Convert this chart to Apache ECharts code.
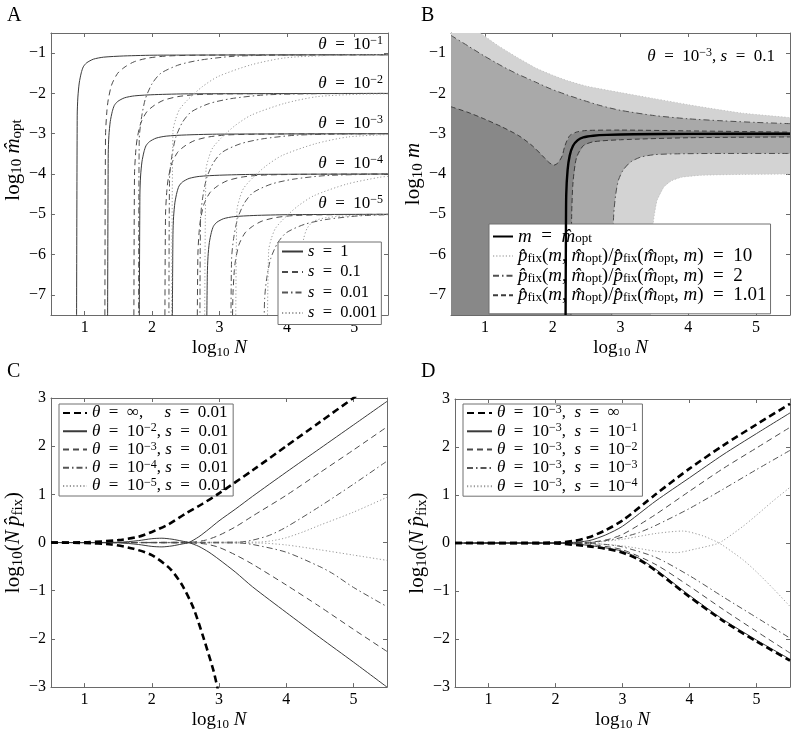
<!DOCTYPE html>
<html><head><meta charset="utf-8">
<script src="https://cdn.jsdelivr.net/npm/echarts@6/dist/echarts.min.js"></script>
<style>html,body{margin:0;padding:0;background:#fff}#c{width:800px;height:732px}</style>
</head><body><div id="c"></div>
<script>
// ---------------- DATA ----------------
const X_TICKS = [1, 2, 3, 4, 5];
const YA_TICKS = [-7, -6, -5, -4, -3, -2, -1];
const YC_TICKS = [-3, -2, -1, 0, 1, 2, 3];
const THETA_LABELS_A = ['−1', '−2', '−3', '−4', '−5'];

// Panel A: log10 m_opt vs log10 N  (rows: theta = 1e-1 .. 1e-5)
const A_S1 = [
 [[0.88,-8],[0.89,-2.54],[0.90,-2.09],[0.92,-1.74],[0.95,-1.49],[0.98,-1.34],[1.03,-1.24],[1.13,-1.15],[1.28,-1.10],[1.58,-1.07],[2.08,-1.05],[5.5,-1.04]],
 [[1.34,-8],[1.35,-3.5],[1.36,-3.05],[1.38,-2.7],[1.41,-2.45],[1.44,-2.3],[1.49,-2.2],[1.59,-2.11],[1.74,-2.06],[2.04,-2.03],[2.54,-2.01],[5.5,-2.0]],
 [[1.81,-8],[1.82,-4.5],[1.83,-4.05],[1.85,-3.7],[1.88,-3.45],[1.91,-3.3],[1.96,-3.2],[2.06,-3.11],[2.21,-3.06],[2.51,-3.03],[3.01,-3.01],[5.5,-3.0]],
 [[2.30,-8],[2.31,-5.5],[2.32,-5.05],[2.34,-4.7],[2.37,-4.45],[2.40,-4.3],[2.45,-4.2],[2.55,-4.11],[2.70,-4.06],[3.00,-4.03],[3.50,-4.01],[5.5,-4.0]],
 [[2.81,-8],[2.82,-6.5],[2.83,-6.05],[2.85,-5.7],[2.88,-5.45],[2.91,-5.3],[2.96,-5.2],[3.06,-5.11],[3.21,-5.06],[3.51,-5.03],[4.01,-5.01],[5.5,-5.0]]
];
const A_S01 = [
 [[1.30,-8],[1.31,-3.04],[1.33,-2.44],[1.35,-2.16],[1.40,-1.79],[1.49,-1.50],[1.60,-1.34],[1.74,-1.21],[1.95,-1.12],[2.23,-1.07],[2.80,-1.05],[5.5,-1.04]],
 [[1.73,-8],[1.74,-4.0],[1.76,-3.4],[1.78,-3.12],[1.83,-2.75],[1.92,-2.46],[2.03,-2.3],[2.17,-2.17],[2.38,-2.08],[2.66,-2.03],[3.23,-2.01],[5.5,-2.0]],
 [[2.19,-8],[2.20,-5.0],[2.22,-4.4],[2.24,-4.12],[2.29,-3.75],[2.38,-3.46],[2.49,-3.3],[2.63,-3.17],[2.84,-3.08],[3.12,-3.03],[3.69,-3.01],[5.5,-3.0]],
 [[2.67,-8],[2.68,-6.0],[2.70,-5.4],[2.72,-5.12],[2.77,-4.75],[2.86,-4.46],[2.97,-4.3],[3.11,-4.17],[3.32,-4.08],[3.60,-4.03],[4.17,-4.01],[5.5,-4.0]],
 [[3.19,-8],[3.20,-7.0],[3.22,-6.4],[3.24,-6.12],[3.29,-5.75],[3.38,-5.46],[3.49,-5.3],[3.63,-5.17],[3.84,-5.08],[4.12,-5.03],[4.69,-5.01],[5.5,-5.0]]
];
const A_S001 = [
 [[1.80,-8],[1.81,-3.14],[1.84,-2.64],[1.90,-2.14],[2.00,-1.76],[2.13,-1.50],[2.40,-1.29],[2.72,-1.17],[3.20,-1.08],[3.80,-1.05],[5.5,-1.04]],
 [[2.25,-8],[2.26,-4.1],[2.29,-3.6],[2.35,-3.1],[2.45,-2.72],[2.58,-2.46],[2.85,-2.25],[3.17,-2.13],[3.65,-2.04],[4.25,-2.01],[5.5,-2.0]],
 [[2.71,-8],[2.72,-5.1],[2.75,-4.6],[2.81,-4.1],[2.91,-3.72],[3.04,-3.46],[3.31,-3.25],[3.63,-3.13],[4.11,-3.04],[4.71,-3.01],[5.5,-3.0]],
 [[3.17,-8],[3.18,-6.1],[3.21,-5.6],[3.27,-5.1],[3.37,-4.72],[3.50,-4.46],[3.77,-4.25],[4.09,-4.13],[4.57,-4.04],[5.17,-4.01],[5.5,-4.0]],
 [[3.66,-8],[3.67,-7.1],[3.70,-6.6],[3.76,-6.1],[3.86,-5.72],[3.99,-5.46],[4.26,-5.25],[4.58,-5.13],[5.06,-5.04],[5.5,-5.01]]
];
const A_S0001 = [
 [[2.29,-8],[2.31,-2.94],[2.35,-2.64],[2.41,-2.39],[2.54,-2.14],[2.74,-1.84],[2.98,-1.58],[3.47,-1.29],[3.96,-1.12],[4.59,-1.06],[5.5,-1.04]],
 [[2.78,-8],[2.80,-3.9],[2.84,-3.6],[2.90,-3.35],[3.03,-3.1],[3.23,-2.8],[3.47,-2.54],[3.96,-2.25],[4.45,-2.08],[5.08,-2.02],[5.5,-2.01]],
 [[3.24,-8],[3.26,-4.9],[3.30,-4.6],[3.36,-4.35],[3.49,-4.1],[3.69,-3.8],[3.93,-3.54],[4.42,-3.25],[4.91,-3.08],[5.5,-3.02]],
 [[3.71,-8],[3.73,-5.9],[3.77,-5.6],[3.83,-5.35],[3.96,-5.1],[4.16,-4.8],[4.40,-4.54],[4.89,-4.25],[5.38,-4.08],[5.5,-4.06]],
 [[4.20,-8],[4.21,-6.5],[4.22,-6.0],[4.25,-5.6],[4.30,-5.35],[4.40,-5.17],[4.60,-5.08],[5.00,-5.03],[5.5,-5.01]]
];

// Panel B: regions and contours (theta = 1e-3, s = 0.1)
const B_U10 = [[0.93,-0.5],[1.2,-0.82],[1.47,-1.1],[1.75,-1.37],[2.0,-1.55],[2.21,-1.68],[2.5,-1.82],[3.0,-1.98],[3.5,-2.13],[4.0,-2.28],[4.32,-2.37],[4.8,-2.49],[5.5,-2.6]];
const B_L10 = [[3.44,-7.5],[3.45,-6.0],[3.47,-5.4],[3.5,-5.0],[3.54,-4.65],[3.64,-4.32],[3.75,-4.17],[3.9,-4.08],[4.2,-4.03],[4.8,-4.01],[5.5,-4.0]];
const B_U2 = [[0.5,-0.56],[0.75,-0.82],[0.98,-1.06],[1.25,-1.32],[1.47,-1.51],[1.75,-1.72],[1.96,-1.88],[2.2,-2.03],[2.45,-2.17],[2.7,-2.3],[3.0,-2.42],[3.5,-2.55],[4.0,-2.63],[4.5,-2.68],[5.0,-2.72],[5.5,-2.75]];
const B_L2 = [[2.87,-7.5],[2.88,-6.0],[2.9,-5.0],[2.93,-4.5],[2.97,-4.15],[3.04,-3.9],[3.15,-3.7],[3.3,-3.58],[3.5,-3.52],[3.8,-3.5],[4.5,-3.49],[5.5,-3.49]];
const B_U101 = [[0.5,-2.33],[0.75,-2.47],[1.0,-2.64],[1.25,-2.83],[1.5,-3.05],[1.7,-3.3],[1.85,-3.55],[1.95,-3.72],[2.02,-3.78],[2.08,-3.72],[2.14,-3.55],[2.18,-3.3],[2.25,-3.05],[2.35,-2.96],[2.5,-2.92],[3.0,-2.91],[4.0,-2.93],[5.5,-2.96]];
const B_L101 = [[2.27,-7.5],[2.28,-5.0],[2.3,-4.2],[2.35,-3.6],[2.45,-3.3],[2.6,-3.2],[3.0,-3.15],[4.0,-3.1],[5.5,-3.08]];
const B_MOPT = [[2.19,-7.5],[2.195,-5.5],[2.2,-4.5],[2.22,-3.9],[2.25,-3.55],[2.3,-3.3],[2.37,-3.16],[2.45,-3.09],[2.6,-3.05],[2.8,-3.03],[3.2,-3.015],[4.0,-3.005],[5.5,-3.0]];
const B_CORNERS = {tl:[0.5,-0.5], bl:[0.5,-7.5], r10:[5.5,-4.0], r2:[5.5,-3.49]};

// Panel C: log10(N p_fix), s = 0.01
const C_INF_UP = [[0.5,0],[1,0.005],[1.5,0.05],[1.8,0.12],[2.0,0.22],[2.25,0.38],[2.5,0.6],[2.75,0.8],[3.0,1.02],[3.5,1.5],[4,2.0],[4.5,2.5],[5.0,3.0],[5.1,3.1]];
const C_INF_LO = [[0.5,0],[1.0,-0.01],[1.4,-0.04],[1.73,-0.13],[2.0,-0.26],[2.27,-0.54],[2.45,-0.88],[2.62,-1.36],[2.77,-1.98],[2.92,-2.67],[2.99,-3.1]];
const C_T2_A = [[0.5,0],[1.5,0.005],[1.8,0.04],[2.0,0.08],[2.15,0.09],[2.3,0.07],[2.45,0.03],[2.55,0],[2.7,-0.08],[2.85,-0.2],[3.0,-0.35],[3.25,-0.62],[3.5,-0.92],[4.0,-1.45],[4.5,-1.97],[5.0,-2.48],[5.5,-3.0]];
const C_T2_B = [[0.5,0],[1.5,-0.005],[1.8,-0.04],[2.0,-0.08],[2.15,-0.09],[2.3,-0.07],[2.45,-0.03],[2.55,0],[2.7,0.12],[2.85,0.28],[3.0,0.45],[3.25,0.7],[3.5,0.96],[4.0,1.46],[4.5,1.95],[5.0,2.44],[5.5,2.93]];
const C_T3_UP = [[0.5,0],[2.6,0.01],[2.8,0.05],[3.0,0.15],[3.25,0.33],[3.5,0.55],[4.0,0.98],[4.5,1.45],[5.0,1.92],[5.5,2.4]];
const C_T3_LO = [[0.5,0],[2.6,-0.01],[2.8,-0.03],[3.0,-0.1],[3.25,-0.26],[3.5,-0.45],[4.0,-0.88],[4.5,-1.33],[5.0,-1.8],[5.5,-2.26]];
const C_T4_UP = [[0.5,0],[3.3,0.01],[3.5,0.05],[3.75,0.15],[4.0,0.32],[4.5,0.75],[5.0,1.21],[5.5,1.69]];
const C_T4_LO = [[0.5,0],[3.3,-0.01],[3.5,-0.04],[4.0,-0.2],[4.5,-0.5],[4.7,-0.65],[5.0,-0.93],[5.5,-1.33]];
const C_T5_UP = [[0.5,0],[3.6,0.01],[3.8,0.04],[4.0,0.1],[4.25,0.22],[4.5,0.36],[5.0,0.63],[5.5,0.94]];
const C_T5_LO = [[0.5,0],[3.6,-0.01],[4.0,-0.05],[4.5,-0.15],[5.0,-0.26],[5.5,-0.37]];

// Panel D: log10(N p_fix), theta = 1e-3
const D_INF_UP = [[0.5,0],[2.0,0.01],[2.3,0.05],[2.5,0.12],[2.75,0.27],[3.0,0.47],[3.5,1.02],[4.0,1.55],[4.5,2.03],[5.0,2.47],[5.5,2.9]];
const D_INF_LO = [[0.5,0],[2.0,-0.01],[2.5,-0.07],[2.75,-0.12],[3.0,-0.2],[3.25,-0.35],[3.5,-0.58],[3.75,-0.85],[4.0,-1.12],[4.5,-1.62],[5.0,-2.05],[5.5,-2.45]];
const D_S1_UP = [[0.5,0],[2.2,0.01],[2.5,0.05],[2.75,0.17],[3.0,0.35],[3.5,0.88],[4.0,1.36],[4.5,1.84],[5.0,2.28],[5.5,2.71]];
const D_S1_LO = [[0.5,0],[2.2,-0.01],[2.5,-0.05],[2.75,-0.1],[3.0,-0.17],[3.25,-0.32],[3.5,-0.55],[3.75,-0.82],[4.0,-1.09],[4.5,-1.59],[5.0,-2.02],[5.5,-2.42]];
const D_S2_UP = [[0.5,0],[2.4,0.01],[2.6,0.03],[2.8,0.08],[3.0,0.18],[3.25,0.38],[3.5,0.6],[4.0,1.08],[4.5,1.55],[5.0,1.98],[5.5,2.41]];
const D_S2_LO = [[0.5,0],[2.4,-0.01],[2.6,-0.04],[3.0,-0.14],[3.5,-0.45],[4.0,-0.9],[4.5,-1.38],[5.0,-1.84],[5.5,-2.29]];
const D_S3_UP = [[0.5,0],[2.5,0.01],[2.75,0.05],[3.0,0.12],[3.25,0.22],[3.5,0.37],[4.0,0.72],[4.5,1.12],[5.0,1.53],[5.5,1.93]];
const D_S3_LO = [[0.5,0],[2.5,-0.01],[2.75,-0.03],[3.0,-0.08],[3.5,-0.3],[4.0,-0.68],[4.5,-1.12],[5.0,-1.55],[5.5,-1.98]];
const D_S4_A = [[0.5,0],[2.5,0.01],[3.0,0.08],[3.5,0.2],[3.9,0.25],[4.2,0.15],[4.4,0.03],[4.5,-0.05],[4.8,-0.35],[5.0,-0.6],[5.25,-0.95],[5.5,-1.32]];
const D_S4_B = [[0.5,0],[2.5,-0.01],[3.0,-0.06],[3.5,-0.17],[3.8,-0.2],[4.1,-0.12],[4.4,-0.02],[4.5,0.05],[4.8,0.35],[5.0,0.58],[5.25,0.88],[5.5,1.16]];

// ---------------- STYLE ----------------
const FONT = '"Liberation Serif","DejaVu Serif",serif';
const EQ = '\u2002=\u2002';
function rich(fs, lh) {
  const sf = Math.round(fs * 0.7);
  return {
    i: {fontFamily: FONT, fontStyle: 'italic', fontSize: fs, lineHeight: lh, color: '#000'},
    sub: {fontFamily: FONT, fontSize: sf, verticalAlign: 'bottom', color: '#000'},
    sup: {fontFamily: FONT, fontSize: sf, verticalAlign: 'top', color: '#000'}
  };
}
const SOLID = {type: 'solid', width: 1, color: '#3a3a3a'};
const DASH = {type: [6, 4], width: 1, color: '#4a4a4a'};
const DASHDOT = {type: [6, 3, 1.5, 3], width: 1, color: '#555'};
const DOT = {type: [1.2, 2.2], width: 1, color: '#9a9a9a'};
const THICK = {type: [7, 4], width: 2.6, color: '#000'};

const grids = [
  {left: 50, top: 33, width: 338, height: 282},
  {left: 451, top: 33, width: 339, height: 282},
  {left: 51, top: 398, width: 336, height: 291},
  {left: 455, top: 399, width: 335, height: 290}
];
const Y_NAME_GAP = [20, 18, 21, 22];
const Y_NAME_PAD = [[0, 0, 0, 28], [0, 0, 0, 0], [0, 0, 0, 0], [0, 0, 0, 0]];

function fmtNum(v) { return String(v).replace('-', '−'); }
const xAxes = [], yAxes = [];
grids.forEach((g, gi) => {
  const yTicks = gi < 2 ? YA_TICKS : YC_TICKS;
  const yMin = gi < 2 ? -7.5 : -3, yMax = gi < 2 ? -0.5 : 3;
  const common = {axisLine: {onZero: false, lineStyle: {color: '#6a6a6a', width: 1}}, splitLine: {show: false}};
  xAxes.push(Object.assign({}, common, {
    type: 'value', gridIndex: gi, min: 0.5, max: 5.5, position: 'bottom',
    axisTick: {inside: true, length: 4, customValues: X_TICKS, lineStyle: {color: '#6a6a6a'}},
    axisLabel: {customValues: X_TICKS, margin: 5, fontFamily: FONT, fontSize: 16, color: '#000', formatter: fmtNum},
    name: 'log{sub|10} {i|N}', nameLocation: 'middle', nameGap: 13,
    nameTextStyle: {fontFamily: FONT, fontSize: 19, color: '#000', lineHeight: 22, rich: rich(19, 22)}
  }));
  xAxes.push(Object.assign({}, common, {
    type: 'value', gridIndex: gi, min: 0.5, max: 5.5, position: 'top',
    axisTick: {inside: true, length: 4, customValues: X_TICKS, lineStyle: {color: '#6a6a6a'}},
    axisLabel: {show: false}
  }));
  const yName = gi === 0 ? 'log{sub|10} {i|m\u0302}{sub|opt}' : gi === 1 ? 'log{sub|10} {i|m}' : 'log{sub|10}({i|N\u2009p\u0302}{sub|fix})';
  yAxes.push(Object.assign({}, common, {
    type: 'value', gridIndex: gi, min: yMin, max: yMax, position: 'left',
    axisTick: {inside: true, length: 4, customValues: yTicks, lineStyle: {color: '#6a6a6a'}},
    axisLabel: {customValues: yTicks, margin: 5, fontFamily: FONT, fontSize: 16, color: '#000', formatter: fmtNum},
    name: yName, nameLocation: 'middle', nameRotate: 90, nameGap: Y_NAME_GAP[gi],
    nameTextStyle: {fontFamily: FONT, fontSize: 21, color: '#000', lineHeight: 24, padding: Y_NAME_PAD[gi], rich: rich(21, 24)}
  }));
  yAxes.push(Object.assign({}, common, {
    type: 'value', gridIndex: gi, min: yMin, max: yMax, position: 'right',
    axisTick: {inside: true, length: 4, customValues: yTicks, lineStyle: {color: '#6a6a6a'}},
    axisLabel: {show: false}
  }));
});

const series = [];
function addLine(gi, name, data, ls, z) {
  series.push({
    type: 'line', name: name, data: data, xAxisIndex: gi * 2, yAxisIndex: gi * 2,
    showSymbol: false, symbol: 'none', smooth: 0.25, lineStyle: ls, clip: true,
    silent: true, z: z || 3, animation: false
  });
}
function addPoly(gi, pts, color, z) {
  series.push({
    type: 'custom', xAxisIndex: gi * 2, yAxisIndex: gi * 2, data: [0], silent: true, z: z, animation: false,
    renderItem: function (params, api) {
      return {type: 'polygon', shape: {points: pts.map(p => api.coord(p))}, style: {fill: color}};
    }
  });
}

// Panel A
A_S1.forEach(d => addLine(0, 'A1', d, SOLID));
A_S01.forEach(d => addLine(0, 'A2', d, DASH));
A_S001.forEach(d => addLine(0, 'A3', d, DASHDOT));
A_S0001.forEach(d => addLine(0, 'A4', d, DOT));

// Panel B regions
const lightPoly = [B_CORNERS.tl].concat(B_U10, [B_CORNERS.r10], B_L10.slice().reverse(), [B_CORNERS.bl]);
const medPoly = B_U2.concat([B_CORNERS.r2], B_L2.slice().reverse(), [B_CORNERS.bl]);
const darkPoly = B_U101.concat(B_L101.slice().reverse(), [B_CORNERS.bl]);
addPoly(1, lightPoly, '#d3d3d3', 1);
addPoly(1, medPoly, '#a9a9a9', 1.1);
addPoly(1, darkPoly, '#888888', 1.2);
const BDOT = {type: [1.2, 2], width: 1, color: '#c4c4c4'};
const BDD = {type: [6, 3, 1.5, 3], width: 1, color: '#505050'};
const BDASH = {type: [5, 3], width: 1, color: '#3c3c3c'};
addLine(1, 'B10', B_U10, BDOT);
addLine(1, 'B10', B_L10, BDOT);
addLine(1, 'B2', B_U2, BDD);
addLine(1, 'B2', B_L2, BDD);
addLine(1, 'B101', B_U101, BDASH);
addLine(1, 'B101', B_L101, BDASH);
addLine(1, 'Bm', B_MOPT, {type: 'solid', width: 2.4, color: '#000'}, 5);

// Panel C
addLine(2, 'C5', C_T5_UP, DOT); addLine(2, 'C5', C_T5_LO, DOT);
addLine(2, 'C4', C_T4_UP, DASHDOT); addLine(2, 'C4', C_T4_LO, DASHDOT);
addLine(2, 'C3', C_T3_UP, DASH); addLine(2, 'C3', C_T3_LO, DASH);
addLine(2, 'C2', C_T2_A, SOLID); addLine(2, 'C2', C_T2_B, SOLID);
addLine(2, 'Cinf', C_INF_UP, THICK, 5); addLine(2, 'Cinf', C_INF_LO, THICK, 5);

// Panel D
addLine(3, 'D4', D_S4_A, DOT); addLine(3, 'D4', D_S4_B, DOT);
addLine(3, 'D3', D_S3_UP, DASHDOT); addLine(3, 'D3', D_S3_LO, DASHDOT);
addLine(3, 'D2', D_S2_UP, DASH); addLine(3, 'D2', D_S2_LO, DASH);
addLine(3, 'D1', D_S1_UP, SOLID); addLine(3, 'D1', D_S1_LO, SOLID);
addLine(3, 'Dinf', D_INF_UP, THICK, 5); addLine(3, 'Dinf', D_INF_LO, THICK, 5);

const PF = '{i|p\u0302}{sub|fix}({i|m}, {i|m\u0302}{sub|opt})/{i|p\u0302}{sub|fix}({i|m\u0302}{sub|opt}, {i|m})' + EQ;
const CM = ',\u2002';
const LEG_TEXT = {
  A1: '{i|s}' + EQ + '1', A2: '{i|s}' + EQ + '0.1', A3: '{i|s}' + EQ + '0.01', A4: '{i|s}' + EQ + '0.001',
  Bm: '{i|m}' + EQ + '{i|m\u0302}{sub|opt}',
  B10: PF + '10', B2: PF + '2', B101: PF + '1.01',
  Cinf: '{i|θ}' + EQ + '∞,\u2003 {i|s}' + EQ + '0.01',
  C2: '{i|θ}' + EQ + '10{sup|−2}, {i|s}' + EQ + '0.01', C3: '{i|θ}' + EQ + '10{sup|−3}, {i|s}' + EQ + '0.01',
  C4: '{i|θ}' + EQ + '10{sup|−4}, {i|s}' + EQ + '0.01', C5: '{i|θ}' + EQ + '10{sup|−5}, {i|s}' + EQ + '0.01',
  Dinf: '{i|θ}' + EQ + '10{sup|−3}' + CM + '{i|s}' + EQ + '∞', D1: '{i|θ}' + EQ + '10{sup|−3}' + CM + '{i|s}' + EQ + '10{sup|−1}',
  D2: '{i|θ}' + EQ + '10{sup|−3}' + CM + '{i|s}' + EQ + '10{sup|−2}', D3: '{i|θ}' + EQ + '10{sup|−3}' + CM + '{i|s}' + EQ + '10{sup|−3}',
  D4: '{i|θ}' + EQ + '10{sup|−3}' + CM + '{i|s}' + EQ + '10{sup|−4}'
};
function mkLegend(left, top, data, fs, lh, gap, iw, pad) {
  return {
    left: left, top: top, orient: 'vertical', data: data, selectedMode: false,
    backgroundColor: '#fff', borderColor: '#707070', borderWidth: 1, borderRadius: 0,
    padding: pad, itemWidth: iw, itemHeight: 8, itemGap: gap, itemStyle: {opacity: 0},
    textStyle: {fontFamily: FONT, fontSize: fs, color: '#000', lineHeight: lh, rich: rich(fs, lh)},
    formatter: n => LEG_TEXT[n]
  };
}

const graphic = [
  {type: 'text', x: 7, y: 6, style: {text: 'A', fontFamily: FONT, fontSize: 20, fill: '#000'}},
  {type: 'text', x: 421, y: 6, style: {text: 'B', fontFamily: FONT, fontSize: 20, fill: '#000'}},
  {type: 'text', x: 7, y: 362, style: {text: 'C', fontFamily: FONT, fontSize: 20, fill: '#000'}},
  {type: 'text', x: 421, y: 362, style: {text: 'D', fontFamily: FONT, fontSize: 20, fill: '#000'}},
  {type: 'text', x: 775, y: 57, style: {text: '{i|θ}' + EQ + '10{sup|−3}, {i|s}' + EQ + '0.1', rich: rich(17, 20), fontFamily: FONT, fontSize: 17, lineHeight: 20, fill: '#000', align: 'right', verticalAlign: 'middle'}}
];
const aYc = [45, 84, 124, 164, 204];
THETA_LABELS_A.forEach((t, k) => {
  graphic.push({type: 'text', x: 383, y: aYc[k], style: {text: '{i|θ}' + EQ + '10{sup|' + t + '}', rich: rich(17, 20), fontFamily: FONT, fontSize: 17, lineHeight: 20, fill: '#000', align: 'right', verticalAlign: 'middle'}});
});

const chart = echarts.init(document.getElementById('c'), null, {renderer: 'canvas'});
chart.setOption({
  animation: false,
  backgroundColor: '#fff',
  grid: grids,
  xAxis: xAxes,
  yAxis: yAxes,
  legend: [
    mkLegend(278, 242, ['A1', 'A2', 'A3', 'A4'], 16.5, 13, 3.5, 21, [1, 4, 3, 3]),
    mkLegend(489, 224, ['Bm', 'B10', 'B2', 'B101'], 19, 18, 0.6, 20, [3, 4, 9, 3]),
    mkLegend(59, 404, ['Cinf', 'C2', 'C3', 'C4', 'C5'], 17, 18, 0.25, 24, [0, 5, 1, 3]),
    mkLegend(463, 404, ['Dinf', 'D1', 'D2', 'D3', 'D4'], 17, 18, 0.3, 25, [0, 5, 1, 3])
  ],
  series: series,
  graphic: graphic
});
</script>
</body></html>
